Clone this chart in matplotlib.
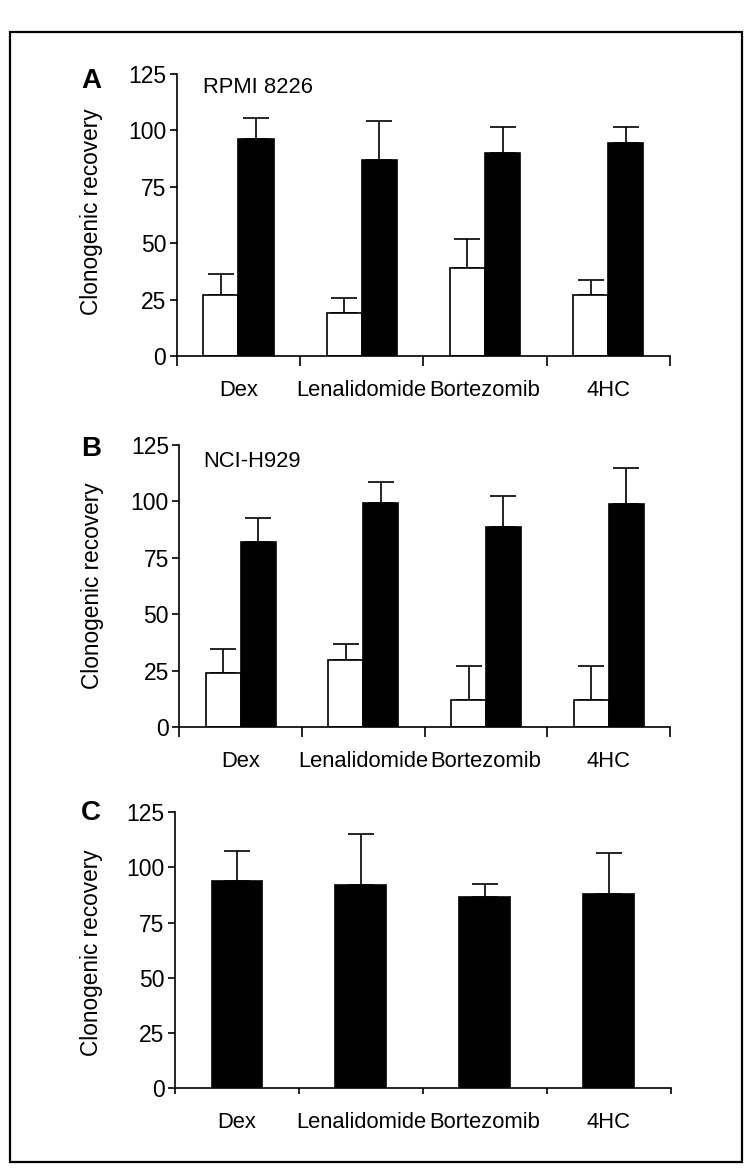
import numpy as np
import matplotlib
matplotlib.use("Agg")
import matplotlib.pyplot as plt
from matplotlib.patches import Rectangle

plt.rcParams['font.family'] = ['Liberation Sans', 'DejaVu Sans']

categories = ["Dex", "Lenalidomide", "Bortezomib", "4HC"]
yticks = [0, 25, 50, 75, 100, 125]

# Panel A: RPMI 8226
a_white = [27, 19, 39, 27]
a_white_err = [9.5, 6.5, 13, 6.5]
a_black = [96, 87, 90, 94.5]
a_black_err = [9.5, 17, 11.5, 7]

# Panel B: NCI-H929
b_white = [24, 30, 12, 12]
b_white_err = [10.5, 7, 15, 15]
b_black = [82, 99.5, 88.5, 99]
b_black_err = [10.5, 9, 14, 16]

# Panel C
c_black = [94, 92, 86.5, 88]
c_black_err = [13.5, 23, 6, 18.5]

W, H = 750, 1170
fig = plt.figure(figsize=(W / 100, H / 100), dpi=100)

FS = 15.8
TFS = 16.5
LW = 1.2


def px_axes(x0, x1, ytop, ybot):
    return fig.add_axes([x0 / W, 1 - ybot / H, (x1 - x0) / W, (ybot - ytop) / H])


def style(ax, ylim_top, xtick_len):
    ax.set_xlim(0, 4)
    ax.set_ylim(0, ylim_top)
    for s in ("top", "right"):
        ax.spines[s].set_visible(False)
    for s in ("left", "bottom"):
        ax.spines[s].set_linewidth(LW)
    ax.set_yticks(yticks)
    ax.set_yticklabels([str(v) for v in yticks], fontsize=TFS)
    ax.tick_params(axis="y", direction="out", length=5, width=LW, pad=2.5)
    ax.set_xticks(np.arange(5))
    ax.set_xticklabels([])
    ax.tick_params(axis="x", which="major", direction="out", length=xtick_len, width=LW)
    ax.set_xticks(np.arange(4) + 0.5, minor=True)
    ax.set_xticklabels(categories, minor=True, fontsize=FS)
    ax.tick_params(axis="x", which="minor", length=0, pad=17)


def paired(ax, white, werr, black, berr):
    x = np.arange(len(categories)) + 0.5
    w = 0.285
    ax.bar(x - w / 2, white, w, color="white", edgecolor="black", linewidth=LW, zorder=2)
    ax.bar(x + w / 2, black, w, color="black", edgecolor="black", linewidth=LW, zorder=2)
    ax.errorbar(x - w / 2, white, yerr=[np.zeros(len(werr)), werr], fmt="none",
                ecolor="black", elinewidth=LW, capsize=9.5, capthick=LW, zorder=1)
    ax.errorbar(x + w / 2, black, yerr=[np.zeros(len(berr)), berr], fmt="none",
                ecolor="black", elinewidth=LW, capsize=9.5, capthick=LW, zorder=1)


axA = px_axes(176.7, 670, 74, 356)
style(axA, 125, 7)
paired(axA, a_white, a_white_err, a_black, a_black_err)
axA.text(0.21, 118.8, "RPMI 8226", fontsize=FS, ha="left", va="center")
axA.text(-0.172, 0.51, "Clonogenic recovery", rotation=90, fontsize=16.3,
         ha="center", va="center", transform=axA.transAxes)

axB = px_axes(179.3, 670, 445, 727.3)
style(axB, 125, 7)
paired(axB, b_white, b_white_err, b_black, b_black_err)
axB.text(0.196, 117.6, "NCI-H929", fontsize=FS, ha="left", va="center")
axB.text(-0.177, 0.5, "Clonogenic recovery", rotation=90, fontsize=16.3,
         ha="center", va="center", transform=axB.transAxes)

axC = px_axes(175, 670.7, 812.3, 1088)
style(axC, 125, 4.5)
xc = np.arange(len(categories)) + 0.5
axC.bar(xc, c_black, 0.41, color="black", edgecolor="black", linewidth=LW, zorder=2)
axC.errorbar(xc, c_black, yerr=[np.zeros(len(c_black_err)), c_black_err], fmt="none",
             ecolor="black", elinewidth=LW, capsize=9.5, capthick=LW, zorder=1)
axC.text(-0.1675, 0.49, "Clonogenic recovery", rotation=90, fontsize=16.3,
         ha="center", va="center", transform=axC.transAxes)

for letter, yc in (("A", 81), ("B", 449), ("C", 813)):
    fig.text(81 / W, 1 - yc / H, letter, fontsize=20, fontweight="bold",
             ha="left", va="center")

fig.patches.append(Rectangle((10 / W, 1 - 1162 / H), 732 / W, 1130 / H,
                             transform=fig.transFigure, fill=False,
                             edgecolor="black", linewidth=1.6))

fig.savefig("out.png", dpi=100)
